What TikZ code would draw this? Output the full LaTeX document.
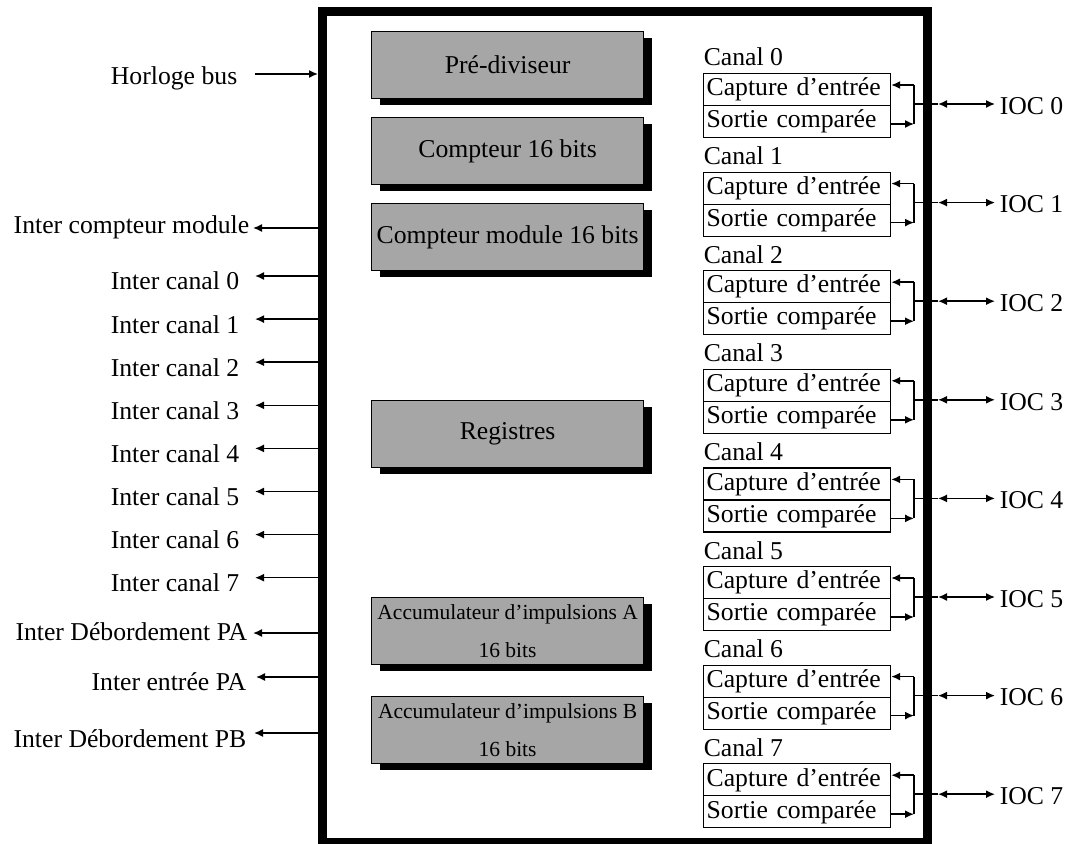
\documentclass[tikz,border=0pt]{standalone}
\usepackage{fontspec}
\setmainfont{Liberation Serif}
\usetikzlibrary{arrows.meta,shadows}
\definecolor{boxgray}{RGB}{166,166,166}
\begin{document}
\begin{tikzpicture}[x=0.5pt,y=-0.5pt,
  font=\fontsize{12.85}{15}\selectfont,
  every path/.style={line width=0.75pt},
  tip/.style={-{Latex[length=4.5pt,width=4pt]}},
  dtip/.style={{Latex[length=4.5pt,width=4pt]}-{Latex[length=4.5pt,width=4pt]}},
  graybox/.style={draw, line width=0.6pt, fill=boxgray, minimum width=136pt,
    minimum height=33.5pt, anchor=north west, inner sep=1pt, align=center,
    drop shadow={shadow xshift=4pt,shadow yshift=-3pt,fill=black,opacity=1}},
  accfont/.style={font=\fontsize{10.75}{19}\selectfont},
  chanbox/.style={draw, line width=0.6pt, anchor=north west, text width=90.5pt,
    inner xsep=1.5pt, inner ysep=0pt, minimum height=16pt, align=left},
  leftlab/.style={anchor=base east, inner sep=0pt},
]
\useasboundingbox (0,0) rectangle (1070,844);

% internal gray blocks
\node[graybox] (pre) at (371,31) {Pré-diviseur};
\node[graybox] (cpt) at (371,117) {Compteur 16 bits};
\node[graybox] (mod) at (371,203) {Compteur module 16 bits};
\node[graybox] (reg) at (371,400) {Registres};
\node[graybox,accfont] (acca) at (371,597) {Accumulateur d’impulsions A\\16 bits};
\node[graybox,accfont] (accb) at (371,696) {Accumulateur d’impulsions B\\16 bits};

% channels
\foreach \i in {0,...,7}{
  \pgfmathsetmacro\T{73+98.6*\i}
  \pgfmathsetmacro\Tc{\T+12}
  \pgfmathsetmacro\Tm{\T+31}
  \pgfmathsetmacro\Ts{\T+51}
  \pgfmathsetmacro\Tl{\T-7}
  \pgfmathsetmacro\Tb{\T+32}
  \node[anchor=base west, inner sep=0pt] (can\i) at (703,\Tl) {Canal \i};
  \node[chanbox] (cap\i) at (703,\T) {Capture d’entrée};
  \node[chanbox] (sor\i) at (703,\Tb) {Sortie comparée};
  \coordinate (ct\i) at (914,\Tc);
  \coordinate (st\i) at (914,\Ts);
  \coordinate (jc\i) at (914,\Tm);
  \coordinate (bo\i) at (938,\Tm);
  \coordinate (it\i) at (995,\Tm);
  \draw[tip] (ct\i) -- (cap\i.east |- ct\i);
  \draw[tip] (sor\i.east |- st\i) -- (st\i);
  \draw (ct\i) -- (st\i);
  \draw (jc\i) -- (bo\i);
  \draw[dtip] (bo\i) -- (it\i);
  \node[anchor=west, inner sep=0pt] (ioc\i) at (999,\Tm+2) {IOC \i};
}

% left side signals
\node[leftlab] (hor) at (238,85) {Horloge bus};
\coordinate (hs) at (255,74);
\coordinate (he) at (318,74);
\draw[tip] (hs) -- (he);

\node[leftlab] (icm) at (250,234) {Inter compteur module};
\coordinate (icmb) at (318,228);
\coordinate (icmt) at (253,228);
\draw[tip] (icmb) -- (icmt);

\foreach \k in {0,...,7}{
  \pgfmathsetmacro\Y{276+43.1*\k}
  \pgfmathsetmacro\B{\Y+14}
  \node[leftlab] (ic\k) at (240,\B) {Inter canal \k};
  \coordinate (icb\k) at (318,\Y);
  \coordinate (ict\k) at (255,\Y);
  \draw[tip] (icb\k) -- (ict\k);
}

\node[leftlab] (dpa) at (248,640) {Inter Débordement PA};
\coordinate (dpab) at (318,633);
\coordinate (dpat) at (253,633);
\draw[tip] (dpab) -- (dpat);

\node[leftlab] (epa) at (247,690) {Inter entrée PA};
\coordinate (epab) at (318,677);
\coordinate (epat) at (256,677);
\draw[tip] (epab) -- (epat);

\node[leftlab] (dpb) at (247,747) {Inter Débordement PB};
\coordinate (dpbb) at (318,733);
\coordinate (dpbt) at (254,733);
\draw[tip] (dpbb) -- (dpbt);

% main frame
\draw[line width=4.5pt] (322,12) rectangle (927,842);
\end{tikzpicture}
\end{document}
